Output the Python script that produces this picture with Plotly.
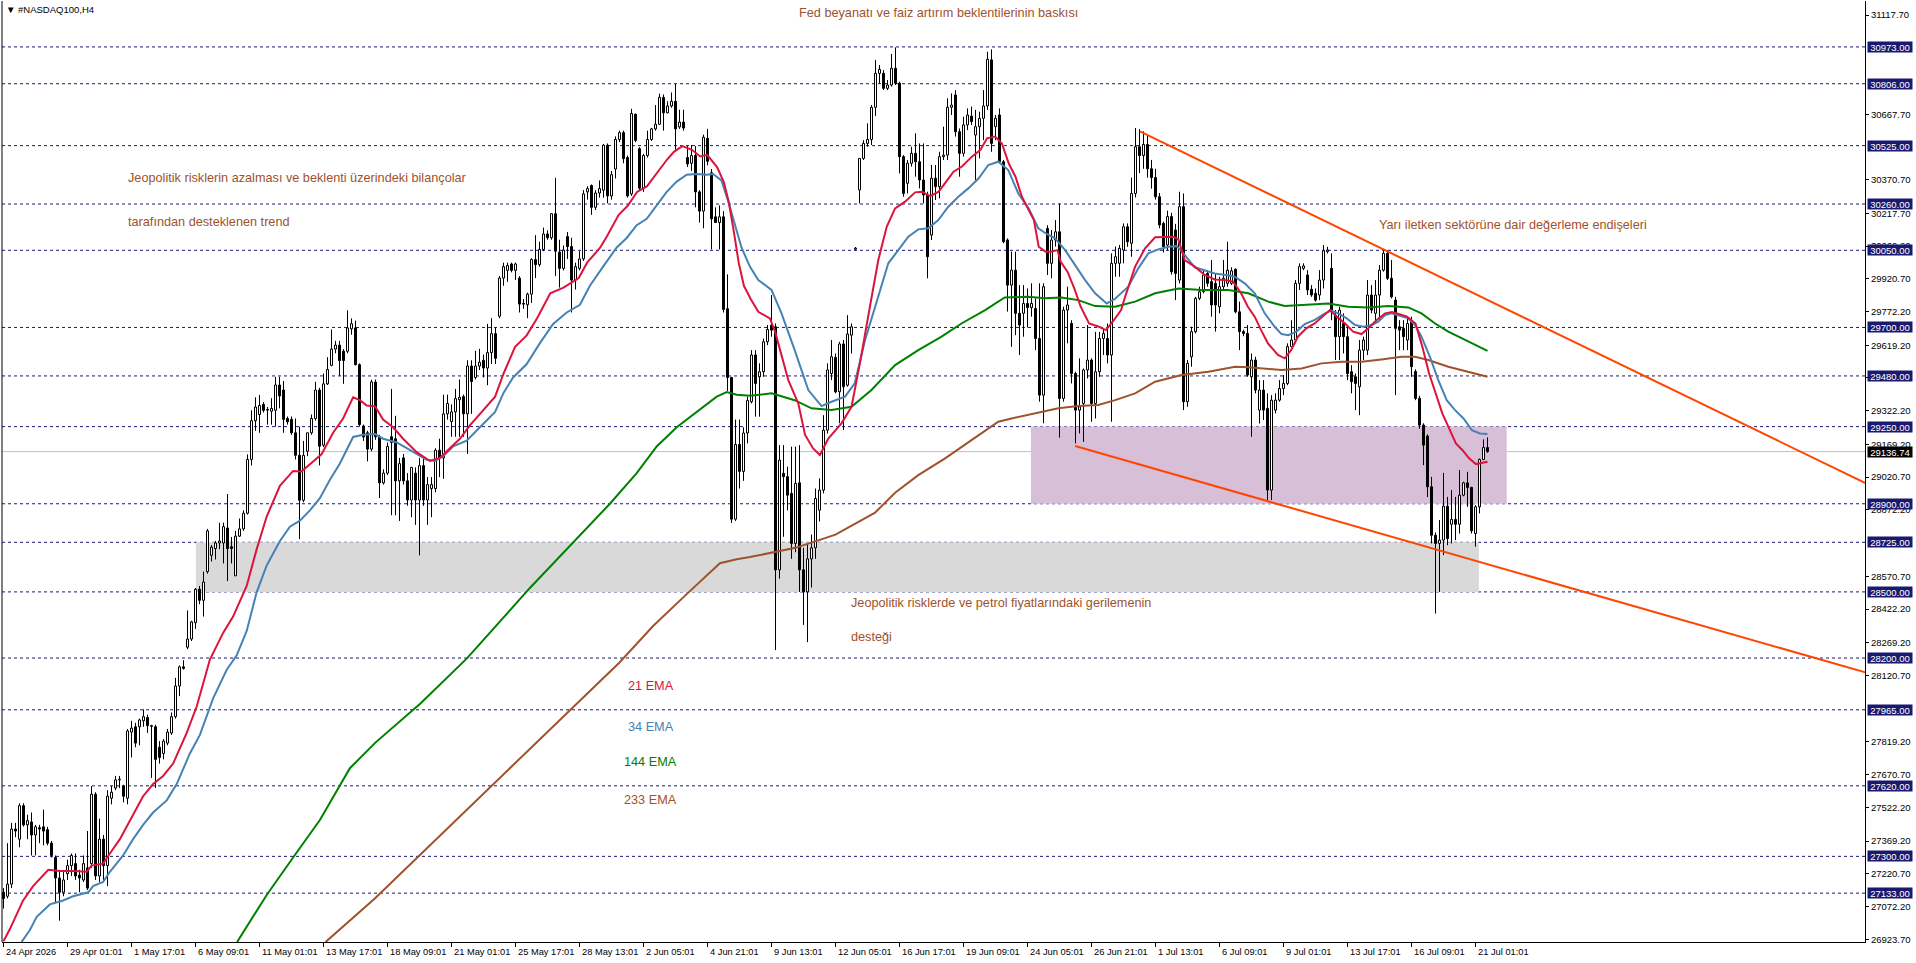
import plotly.graph_objects as go

# ---------------- data ----------------
opens = [
    27137, 27119, 27174, 27424, 27378, 27530, 27443, 27456, 27397, 27430,
    27434, 27421, 27360, 27295, 27202, 27137, 27221, 27258, 27267, 27215,
    27193, 27248, 27267, 27582, 27211, 27378, 27258, 27564, 27610, 27647,
    27619, 27564, 27864, 27888, 27888, 27915, 27930, 27893, 27888, 27795,
    27767, 27814, 27860, 27934, 28073, 28160, 28249, 28286, 28360, 28512,
    28462, 28592, 28666, 28697, 28722, 28722, 28790, 28705, 28573, 28753,
    28786, 28857, 29101, 29277, 29305, 29351, 29327, 29320, 29324, 29439,
    29416, 29287, 29283, 29222, 29120, 28916, 29138, 29222, 29287, 29416,
    29166, 29444, 29528, 29602, 29620, 29592, 29592, 29694, 29698, 29531,
    29253, 29222, 29148,
    29452, 29204, 28995, 29039, 29204, 29195, 29004,
    29108, 29004, 28917, 29039, 28917, 29073, 28917, 28969, 28969, 29143,
    29108, 29308, 29273, 29317, 29372, 29386, 29308, 29525, 29473, 29525,
    29551, 29516, 29586, 29672, 29751, 29924, 29959, 29988, 29959, 29924,
    29808, 29803, 29851, 30008, 29985, 30054, 30124, 30107, 30216, 30042,
    29968, 30112, 30067, 29915, 29968, 30011, 30315, 30344, 30245, 30310,
    30323, 30527, 30297, 30419, 30553, 30584, 30471, 30306, 30667, 30511,
    30332, 30480, 30553, 30601, 30622, 30744, 30674, 30705, 30726, 30610,
    30632, 30471, 30445, 30480, 30315, 30228, 30558, 30402, 30202, 30176,
    30202, 29785, 29473, 28830, 29169, 29047, 29221,
    29363, 29575, 29476,
    29499, 29635, 29711, 29703, 28600, 29038, 29023, 28947, 28720, 28995,
    28600, 28500, 28650, 28700, 28871, 28962, 29234, 29491, 29564, 29408,
    29625, 29438, 29665, 30055, 30324, 30467, 30535, 30553, 30699, 30853,
    30853, 30785, 30800, 30876, 30808, 30475, 30354, 30445, 30490, 30452,
    30369, 30301, 30119, 30377, 30339, 30475, 30482, 30699, 30755, 30588,
    30490, 30619, 30659, 30573, 30611, 30649, 30705, 30914, 30611, 30664,
    30452, 30097, 29892, 29960, 29764, 29764, 29809, 29790, 29786, 29650,
    29393, 30149, 29991, 30097, 30134, 29378, 29779, 29718, 29491, 29325,
    29355, 29507, 29552, 29355, 29499, 29650, 29650, 29575, 29991,
    29991,
    30051, 30157, 30082, 30308, 30520, 30480, 30530, 30420, 30380, 30293,
    30172, 30074, 30203, 30142, 29915, 30248, 29363, 29567, 29681, 29832,
    29862, 29945, 29908, 29900, 29794, 29885, 29900, 29900, 29964, 29771,
    29681, 29673, 29476, 29552, 29325, 29416, 29333, 28962, 29325, 29370,
    29423, 29446, 29613, 29643, 29900, 29968, 29938, 29873, 29855, 29847,
    29915, 30044, 29968, 29756, 29658, 29718, 29658, 29499, 29476, 29431,
    29597, 29597, 29847, 29764, 29847, 29960, 30036, 29923, 29824, 29703,
    29696, 29643, 29726, 29500, 29378, 29257, 29207, 28977, 28757, 28720,
    28735, 28889, 28807, 28829, 28807, 28939, 28995, 28974, 28765, 28886,
    29101, 29155,
]

highs = [
    27156, 27360, 27452, 27452, 27541, 27541, 27489, 27499, 27443, 27443,
    27512, 27434, 27370, 27304, 27230, 27230, 27285, 27313, 27313, 27239,
    27304, 27415, 27619, 27591, 27471, 27397, 27600, 27619, 27665, 27665,
    27625, 27878, 27915, 27906, 27925, 27967, 27943, 27897, 27897, 27823,
    27832, 27878, 27953, 28110, 28166, 28190, 28416, 28369, 28518, 28527,
    28592, 28786, 28712, 28731, 28814, 28814, 28944, 28749, 28777, 28833,
    28870, 29124, 29324, 29383, 29394, 29361, 29339, 29379, 29476, 29476,
    29457, 29296, 29296, 29287, 29250, 29185, 29222, 29305, 29453, 29426,
    29491, 29565, 29691, 29639, 29639, 29602, 29778, 29741, 29731, 29537,
    29259, 29231, 29463,
    29464, 29213, 29056, 29178, 29421, 29299, 29108,
    29126, 29039, 29065, 29065, 29108, 29108, 29021, 29021, 29152, 29195,
    29395, 29395, 29351, 29421, 29464, 29395, 29551, 29551, 29594, 29603,
    29577, 29716, 29742, 29699, 29933, 29994, 29994, 29994, 29994, 29933,
    29829, 29858, 30014, 30119, 30089, 30153, 30141, 30219, 30379, 30098,
    30072, 30133, 30107, 29994, 30046, 30323, 30341, 30349, 30323, 30367,
    30532, 30535, 30410, 30567, 30593, 30593, 30480, 30692, 30671, 30518,
    30488, 30593, 30605, 30709, 30761, 30757, 30726, 30766, 30806, 30688,
    30688, 30523, 30528, 30523, 30323, 30575, 30601, 30419, 30245, 30254,
    30228, 29941, 29476, 29282, 29282, 29247, 29386,
    29597, 29597, 29537,
    29650, 29711, 29847, 29718, 29166, 29166, 29068, 29159, 29159, 29166,
    28700, 28720, 28760, 28969, 29015, 29302, 29537, 29643, 29582, 29635,
    29643, 29756, 29718, 30065, 30467, 30550, 30626, 30709, 30914, 30891,
    30868, 30823, 30941, 30971, 30815, 30482, 30460, 30520, 30581, 30535,
    30535, 30316, 30437, 30437, 30497, 30611, 30740, 30762, 30777, 30603,
    30656, 30694, 30702, 30687, 30679, 30777, 30951, 30962, 30664, 30694,
    30460, 30104, 30044, 30044, 29892, 29892, 29877, 29900, 29832, 29900,
    29900, 30164, 30142, 30187, 30263, 29794, 29885, 29733, 29499, 29560,
    29514, 29711, 29560, 29680, 29680, 29695, 29718, 30036, 30067,
    30074,
    30172, 30172, 30380, 30605, 30600, 30590, 30570, 30460, 30420, 30310,
    30180, 30230, 30220, 30170, 30316, 30308, 29552, 29703, 29839, 29885,
    29960, 29960, 30006, 29945, 29930, 30006, 30089, 29973, 29968, 29817,
    29690, 29711, 29582, 29567, 29461, 29461, 29401, 29393, 29401, 29461,
    29484, 29628, 29733, 29915, 29991, 29991, 29960, 29892, 29877, 29960,
    30074, 30066, 30036, 29779, 29794, 29764, 29703, 29529, 29491, 29643,
    29658, 29915, 29892, 29915, 29983, 30051, 30051, 30006, 29839, 29733,
    29733, 29749, 29749, 29510, 29390, 29265, 29215, 29022, 28770, 28826,
    29040, 28931, 28962, 28931, 29053, 29000, 29045, 28977, 28894, 29105,
    29192, 29201,
]

lows = [
    27063, 27109, 27156, 27387, 27341, 27435, 27378, 27304, 27304, 27360,
    27350, 27350, 27295, 27091, 27008, 27119, 27193, 27211, 27193, 27137,
    27184, 27147, 27248, 27193, 27184, 27193, 27165, 27536, 27600, 27610,
    27545, 27536, 27749, 27795, 27804, 27888, 27860, 27656, 27610, 27721,
    27740, 27804, 27851, 27925, 28027, 28147, 28240, 28277, 28332, 28444,
    28388, 28583, 28638, 28647, 28694, 28629, 28549, 28629, 28573, 28749,
    28777, 28851, 29074, 29231, 29222, 29314, 29259, 29259, 29250, 29333,
    29222, 29259, 29213, 29101, 28740, 28907, 29116, 29213, 29277, 29074,
    29157, 29439, 29524, 29583, 29481, 29444, 29583, 29667, 29528, 29250,
    29185, 29092, 29138,
    29190, 28926, 28987, 29030, 28848, 28848, 28822,
    28987, 28891, 28839, 28804, 28666, 28891, 28804, 28839, 28952, 29021,
    29013, 29282, 29204, 29204, 29204, 29204, 29126, 29308, 29464, 29507,
    29473, 29438, 29534, 29534, 29742, 29889, 29907, 29950, 29915, 29768,
    29785, 29742, 29811, 29924, 29976, 30046, 30098, 30098, 29933, 29881,
    29959, 30011, 29768, 29872, 29959, 30002, 30280, 30211, 30233, 30289,
    30289, 30263, 30280, 30376, 30541, 30445, 30289, 30297, 30541, 30323,
    30315, 30471, 30546, 30593, 30619, 30593, 30671, 30697, 30506, 30601,
    30593, 30428, 30410, 30245, 30176, 30150, 30436, 30054, 30176, 30054,
    29768, 29412, 28813, 28822, 28969, 29004, 29174,
    29355, 29295, 29295,
    29476, 29620, 29658, 28236, 28560, 28750, 28870, 28650, 28680, 28500,
    28350, 28272, 28520, 28650, 28820, 28947, 29219, 29461, 29401, 29265,
    29234, 29431, 29582, 30050, 30263, 30460, 30520, 30528, 30659, 30808,
    30777, 30777, 30793, 30800, 30399, 30293, 30308, 30430, 30384, 30331,
    30263, 29923, 30097, 30278, 30286, 30460, 30460, 30664, 30566, 30384,
    30475, 30596, 30619, 30369, 30467, 30550, 30687, 30497, 30550, 30445,
    30082, 29772, 29612, 29665, 29575, 29658, 29700, 29749, 29597, 29363,
    29265, 29938, 29923, 30067, 29200, 29363, 29628, 29446, 29174, 29219,
    29181, 29469, 29272, 29287, 29476, 29575, 29537, 29272, 29930,
    29930,
    29991, 30066, 30021, 30290, 30400, 30420, 30380, 30330, 30280, 30150,
    30040, 30050, 29940, 29824, 29900, 29325, 29340, 29522, 29673, 29824,
    29855, 29885, 29749, 29681, 29764, 29870, 29885, 29892, 29764, 29597,
    29660, 29476, 29204, 29401, 29264, 29280, 28917, 28917, 29310, 29363,
    29393, 29438, 29613, 29628, 29870, 29960, 29847, 29839, 29817, 29824,
    29877, 30036, 29733, 29552, 29552, 29582, 29461, 29401, 29325, 29302,
    29552, 29575, 29764, 29733, 29733, 29953, 29915, 29832, 29393, 29597,
    29597, 29597, 29476, 29370, 29240, 29075, 28930, 28720, 28402, 28500,
    28667, 28712, 28720, 28735, 28765, 28934, 28886, 28765, 28705, 28856,
    29098, 29131,
]

closes = [
    27109, 27174, 27424, 27415, 27530, 27443, 27462, 27397, 27434, 27424,
    27415, 27360, 27304, 27202, 27137, 27193, 27258, 27304, 27211, 27202,
    27267, 27156, 27582, 27211, 27378, 27258, 27573, 27591, 27647, 27650,
    27573, 27869, 27882, 27814, 27919, 27934, 27893, 27890, 27740, 27749,
    27823, 27864, 27934, 28073, 28160, 28153, 28286, 28364, 28512, 28462,
    28545, 28777, 28703, 28722, 28731, 28796, 28697, 28697, 28753, 28786,
    28857, 29101, 29277, 29339, 29346, 29324, 29325, 29333, 29439, 29389,
    29283, 29272, 29222, 29120, 28916, 29120, 29222, 29287, 29416, 29161,
    29444, 29509, 29602, 29620, 29550, 29550, 29698, 29717, 29531, 29259,
    29203, 29148, 29453,
    29204, 28995, 29039, 29160, 29178, 29004, 29082,
    29004, 28917, 29065, 28917, 29073, 28917, 28987, 28987, 29143, 29108,
    29308, 29355, 29317, 29377, 29383, 29308, 29525, 29455, 29525, 29542,
    29516, 29586, 29672, 29560, 29924, 29976, 29981, 29959, 29988, 29806,
    29806, 29851, 30008, 29985, 30054, 30124, 30107, 30216, 30046, 29968,
    30051, 30067, 29915, 29976, 30011, 30306, 30330, 30245, 30310, 30330,
    30527, 30297, 30393, 30553, 30584, 30466, 30297, 30671, 30549, 30332,
    30480, 30553, 30601, 30622, 30744, 30674, 30705, 30726, 30601, 30632,
    30605, 30442, 30480, 30315, 30228, 30563, 30454, 30193, 30176, 30202,
    29782, 29473, 28830, 29169, 29047, 29221, 29369,
    29575, 29446, 29499,
    29635, 29691, 29688, 28600, 29098, 29023, 28939, 28720, 28992, 28600,
    28500, 28650, 28700, 28924, 28962, 29234, 29507, 29567, 29408, 29625,
    29431, 29670, 29703, 30060, 30467, 30535, 30553, 30699, 30853, 30871,
    30785, 30800, 30876, 30808, 30475, 30308, 30445, 30490, 30452, 30369,
    30301, 30021, 30377, 30339, 30475, 30482, 30699, 30709, 30588, 30490,
    30619, 30664, 30634, 30611, 30649, 30705, 30917, 30535, 30649, 30452,
    30089, 29892, 29960, 29764, 29711, 29809, 29790, 29809, 29650, 29393,
    29885, 29991, 30097, 30134, 29378, 29779, 29802, 29491, 29325, 29340,
    29507, 29552, 29355, 29499, 29650, 29673, 29575, 29991, 30021,
    30059,
    30157, 30089, 30308, 30520, 30480, 30530, 30420, 30380, 30293, 30165,
    30066, 30203, 29953, 29945, 30248, 29363, 29537, 29681, 29832, 29862,
    29938, 29900, 29802, 29802, 29885, 29923, 29960, 29957, 29771, 29681,
    29673, 29484, 29552, 29416, 29416, 29325, 28962, 29370, 29370, 29423,
    29446, 29613, 29643, 29900, 29976, 29979, 29870, 29847, 29824, 29915,
    30048, 30051, 29771, 29658, 29779, 29658, 29491, 29454, 29446, 29597,
    29643, 29847, 29779, 29847, 29960, 30036, 29923, 29839, 29696, 29688,
    29658, 29718, 29522, 29378, 29257, 29166, 28977, 28757, 28720, 28735,
    28889, 28742, 28829, 28807, 28939, 28995, 28974, 28777, 28886, 29101,
    29155, 29136.74,
]

date_labels = ["24 Apr 2026", "29 Apr 01:01", "1 May 17:01", "6 May 09:01",
               "11 May 01:01", "13 May 17:01", "18 May 09:01", "21 May 01:01",
               "25 May 17:01", "28 May 13:01", "2 Jun 05:01", "4 Jun 21:01",
               "9 Jun 13:01", "12 Jun 05:01", "16 Jun 17:01", "19 Jun 09:01",
               "24 Jun 05:01", "26 Jun 21:01", "1 Jul 13:01", "6 Jul 09:01",
               "9 Jul 01:01", "13 Jul 17:01", "16 Jul 09:01", "21 Jul 01:01"]
date_label_bars = [16 * k for k in range(len(date_labels))]

price_ticks = [31117.70, 30667.70, 30370.70, 30217.70, 30069.20, 29920.70,
               29772.20, 29619.20, 29471.20, 29322.20, 29169.20, 29020.70,
               28872.20, 28570.70, 28422.20, 28269.20, 28120.70, 27819.20,
               27670.70, 27522.20, 27369.20, 27220.70, 27072.20, 26923.70]

levels = [30973, 30806, 30525, 30260, 30050, 29700, 29480, 29250, 28900,
          28725, 28500, 28200, 27965, 27620, 27300, 27133]
current_price = 29136.74

ema21_x = [0, 1.6, 4.9, 7.4, 11.2, 14.1, 17.4, 20.8, 22, 24.9, 26.6, 29.1, 32.4, 34.9,
           37.4, 39.9, 42.4, 45.8, 48.3, 51.6, 54.9, 57.4, 60.8, 63.3, 65.8, 69.1, 72.4,
           74.5, 77.4, 79.5, 82.4, 84.9, 87.4, 89.1, 90.8, 92.9, 94.9, 97.4, 99.9, 103.3,
           106.6, 109.1, 111.6, 114.1, 116.6, 120, 122.9, 125, 127.9, 130.8, 133.4, 136.7,
           140, 143.8, 145.9, 149.2, 150.9, 153.8, 156, 158.4, 160.9, 163.4, 165.9, 167.6,
           169.7, 172.1, 174.2, 175.9, 178.4, 180.1, 181.3, 182.6, 183.8, 185.1, 186.8,
           188.7, 191.6, 192.9, 196.2, 198.7, 200.4, 202.4, 204.1, 206.2, 209.5, 212,
           214.1, 216.6, 218.7, 220.8, 222.9, 225.4, 227.9, 229.6, 231.7, 233.8, 235.4,
           237.5, 239.6, 242.1, 244.2, 245.9, 247.9, 249.6, 251.3, 253, 254.6, 256.3,
           257.6, 258.8, 260.5, 261.8, 263.5, 264.3, 266, 267.7, 269.3, 271.4, 273.9,
           275.6, 277.3, 279.4, 280.4, 282.9, 285.4, 287.9, 290.4, 292.4, 293.7, 295.3,
           297.8, 300.3, 302.8, 305.3, 307.4, 309.4, 311.1, 312.8, 314.4, 316.1, 318.6,
           320.3, 321.9, 323.6, 325.7, 327.8, 329.9, 331.6, 333.3, 335.4, 337.4, 339.5,
           341.2, 343.3, 345.4, 347.1, 348.8, 350.9, 353, 354.7, 356.4, 358.1, 359.7,
           361.4, 363.1, 364.7, 366.4, 368.1, 369.8, 371]
ema21_y = [26915, 26970, 27100, 27165, 27239, 27234, 27234, 27230, 27258, 27267, 27313,
           27378, 27489, 27573, 27628, 27665, 27721, 27860, 27980, 28193, 28314, 28388,
           28527, 28694, 28842, 28981, 29049, 29046, 29092, 29124, 29222, 29287, 29383,
           29370, 29346, 29342, 29282, 29247, 29195, 29134, 29094, 29108, 29152, 29195,
           29256, 29325, 29386, 29490, 29612, 29664, 29742, 29855, 29881, 29924, 29994,
           30063, 30115, 30211, 30251, 30315, 30341, 30402, 30462, 30497, 30523, 30506,
           30476, 30483, 30428, 30358, 30271, 30133, 29994, 29889, 29829, 29771, 29741,
           29681, 29461, 29355, 29212, 29151, 29121, 29196, 29265, 29340, 29537, 29794,
           30006, 30157, 30240, 30271, 30313, 30316, 30296, 30316, 30354, 30407, 30430,
           30475, 30505, 30558, 30566, 30535, 30445, 30384, 30293, 30233, 30187, 30066,
           30044, 30044, 30051, 29998, 29953, 29877, 29794, 29718, 29703, 29688, 29726,
           29779, 29839, 29976, 30059, 30109, 30109, 30112, 30100, 30006, 29976, 29938,
           29918, 29915, 29908, 29855, 29794, 29749, 29688, 29628, 29575, 29560, 29597,
           29658, 29696, 29718, 29752, 29779, 29749, 29718, 29681, 29670, 29696, 29734,
           29764, 29770, 29761, 29749, 29718, 29613, 29491, 29401, 29310, 29242, 29174,
           29144, 29106, 29080, 29086, 29091]

ema34_x = [4.5, 6.6, 8.3, 11.6, 14.9, 17.4, 21.2, 22.4, 24.9, 26.6, 29.9, 32.4, 34.9,
           37.4, 40.8, 43.3, 46.6, 49.1, 52.4, 55.8, 58.3, 60.8, 63.3, 65.8, 69.1, 71.6,
           74.1, 76.6, 79.1, 81.6, 84.1, 87.4, 89.9, 92.9, 94.9, 98.3, 100.8, 103.3,
           105.8, 107.9, 110, 112.4, 115.8, 119.1, 122.9, 125, 127.4, 130.8, 134.1, 137.4,
           140.8, 144.1, 146.6, 149.9, 153.3, 155.8, 158.3, 160.8, 163.3, 165.8, 168.3,
           170.8, 173.3, 175.8, 177.4, 179.5, 181.2, 182.8, 184.5, 186.6, 188.7, 192,
           194.5, 197.8, 201.2, 204.5, 207, 210.4, 212.8, 215.4, 218.7, 221.2, 223.7,
           226.2, 228.7, 231.2, 233.7, 236.2, 238.7, 241.2, 243.8, 246.2, 248.7, 251.2,
           253.7, 256.3, 258.7, 260.8, 262.9, 265.4, 267.9, 270.4, 272.9, 275.8, 277.9,
           281.2, 283.7, 286.2, 288.7, 291.2, 293.3, 295.3, 297.8, 300.3, 302.8, 305.7,
           307.8, 310.3, 312.8, 315.3, 317.8, 319.5, 321.2, 323.2, 325.3, 327.8, 330.4,
           332, 333.7, 335.8, 337.9, 340, 342.1, 343.7, 345.4, 347, 349.1, 351.2, 352.9,
           354.5, 356.6, 358.7, 360.8, 362.9, 365, 367.1, 369.1, 371]
ema34_y = [26911, 26966, 27026, 27082, 27100, 27119, 27137, 27165, 27184, 27230, 27304,
           27378, 27443, 27499, 27554, 27628, 27767, 27851, 28017, 28147, 28212, 28323,
           28499, 28620, 28731, 28796, 28823, 28870, 28925, 29009, 29083, 29203, 29213,
           29216, 29195, 29178, 29152, 29126, 29100, 29094, 29117, 29160, 29186, 29247,
           29317, 29403, 29473, 29534, 29629, 29716, 29768, 29803, 29889, 29976, 30063,
           30106, 30164, 30193, 30254, 30315, 30362, 30393, 30396, 30393, 30396, 30367,
           30271, 30167, 30063, 29976, 29915, 29870, 29764, 29597, 29416, 29343, 29363,
           29386, 29446, 29643, 29839, 29991, 30051, 30112, 30145, 30150, 30187, 30248,
           30293, 30331, 30377, 30437, 30452, 30414, 30308, 30240, 30150, 30124, 30104,
           30051, 29983, 29915, 29855, 29809, 29830, 29885, 29968, 30036, 30054, 30066,
           30069, 30029, 29973, 29960, 29945, 29938, 29930, 29900, 29855, 29764, 29703,
           29670, 29665, 29681, 29715, 29734, 29764, 29776, 29764, 29741, 29711, 29703,
           29711, 29726, 29756, 29764, 29752, 29741, 29711, 29658, 29567, 29461, 29370,
           29325, 29287, 29234, 29219, 29216]

ema144_x = [58.4, 65.8, 72.4, 79.1, 86.6, 92.9, 104.3, 115.8, 131.6, 143.3, 151.6,
            158.3, 163.3, 168.3, 173.3, 178.3, 180.8, 183.3, 186.6, 192, 197.8, 202,
            207, 212, 217, 222.9, 228.7, 234.5, 239.5, 245.4, 250.3, 256.2, 260.3,
            264.5, 268.7, 272.9, 277.9, 282.9, 287.9, 293.7, 299.5, 306.2, 311.2,
            316.2, 320.3, 326.2, 331.2, 336.2, 341.2, 346.2, 351.2, 354.5, 357.9,
            361.2, 365.4, 371]
ema144_y = [26911, 27125, 27295, 27465, 27700, 27815, 27995, 28197, 28518, 28744,
            28900, 29039, 29160, 29247, 29317, 29386, 29407, 29395, 29390, 29401,
            29370, 29333, 29325, 29340, 29416, 29529, 29597, 29658, 29718, 29779,
            29836, 29839, 29832, 29836, 29824, 29797, 29794, 29817, 29855, 29877,
            29870, 29870, 29855, 29817, 29797, 29802, 29809, 29794, 29791, 29797,
            29791, 29764, 29718, 29681, 29643, 29594]

ema233_x = [80.5, 92.9, 154, 162.4, 170.8, 179.1, 183.3, 186.6, 198, 208, 217.9,
            222.9, 228.7, 235.4, 242, 248.7, 252, 257.9, 263.7, 268.7, 273.7, 277.9,
            282.9, 287.9, 294.5, 301.2, 307.9, 311.2, 314.5, 319.5, 324.5, 329.5,
            334.5, 339.5, 344.5, 349.5, 352.9, 356.2, 361.2, 366.2, 371]
ema233_y = [26911, 27110, 28180, 28345, 28490, 28630, 28648, 28658, 28700, 28760,
            28860, 28950, 29030, 29106, 29189, 29272, 29287, 29310, 29333, 29343,
            29348, 29370, 29401, 29454, 29484, 29499, 29522, 29519, 29514, 29507,
            29514, 29537, 29544, 29544, 29555, 29567, 29567, 29552, 29522, 29499,
            29476]

# analyst drawings (bar index, price)
upper_trend_x = [284.1, 466.0]
upper_trend_y = [30590, 28989]
lower_trend_x = [267.9, 466.0]
lower_trend_y = [29162, 28132]
gray_zone = dict(x0=48.1, x1=368.85, y0=28500, y1=28725)
purple_zone = dict(x0=256.85, x1=375.8, y0=28900, y1=29250)

notes = [
    ("Fed beyanatı ve faiz artırım beklentilerinin baskısı", 198.4, 31127, "#A0522D"),
    ("Jeopolitik risklerin azalması ve beklenti üzerindeki bilançolar", 30.6, 30378, "#A0522D"),
    ("tarafından desteklenen trend", 30.6, 30178, "#A0522D"),
    ("Yarı iletken sektörüne dair değerleme endişeleri", 343.4, 30165, "#A0522D"),
    ("Jeopolitik risklerde ve petrol fiyatlarındaki gerilemenin", 211.4, 28450, "#A0522D"),
    ("desteği", 211.4, 28295, "#A0522D"),
    ("21 EMA", 155.6, 28073, "#DC143C"),
    ("34 EMA", 155.6, 27887, "#4682B4"),
    ("144 EMA", 154.6, 27728, "#008000"),
    ("233 EMA", 154.6, 27556, "#A0522D"),
]

# ---------------- figure ----------------
n = len(closes)
for name, arr in (("opens", opens), ("highs", highs), ("lows", lows)):
    if len(arr) != n:
        raise ValueError(f"{name} has {len(arr)} values, closes has {n}")

FONT = "Liberation Sans, Arial, sans-serif"
bx = list(range(n))
body_base = [min(o, c) for o, c in zip(opens, closes)]
body_len = [max(abs(c - o), 2.5) for o, c in zip(opens, closes)]
body_fill = ["#ffffff" if c >= o else "#000000" for o, c in zip(opens, closes)]

wick_x, wick_y = [], []
for i in range(n):
    top = max(opens[i], closes[i])
    bot = min(opens[i], closes[i])
    if highs[i] > top:
        wick_x += [i, i, None]
        wick_y += [highs[i], top, None]
    if lows[i] < bot:
        wick_x += [i, i, None]
        wick_y += [bot, lows[i], None]

fig = go.Figure()
fig.add_trace(go.Bar(x=bx, y=body_len, base=body_base, width=0.5,
                     marker=dict(color=body_fill, line=dict(color="#000000", width=1)),
                     hoverinfo="skip"))
fig.add_trace(go.Scatter(x=wick_x, y=wick_y, mode="lines",
                         line=dict(color="#000000", width=1), hoverinfo="skip"))

for xs, ys, col in ((ema233_x, ema233_y, "#A0522D"), (ema144_x, ema144_y, "#008000"),
                    (ema34_x, ema34_y, "#4682B4"), (ema21_x, ema21_y, "#DC143C")):
    fig.add_trace(go.Scatter(x=xs, y=ys, mode="lines", line=dict(color=col, width=2),
                             hoverinfo="skip"))

for xs, ys in ((upper_trend_x, upper_trend_y), (lower_trend_x, lower_trend_y)):
    fig.add_trace(go.Scatter(x=xs, y=ys, mode="lines", line=dict(color="#FF4500", width=2),
                             hoverinfo="skip"))

shapes = []
shapes.append(dict(type="rect", xref="x", yref="y", layer="below",
                   fillcolor="#d9d9d9", line=dict(width=0), **gray_zone))
shapes.append(dict(type="rect", xref="x", yref="y", layer="below",
                   fillcolor="#d8bfd8", line=dict(width=0), **purple_zone))
shapes.append(dict(type="line", xref="paper", yref="y", x0=0, x1=1,
                   y0=current_price, y1=current_price, layer="below",
                   line=dict(color="#c0c0c0", width=1)))
for lv in levels:
    shapes.append(dict(type="line", xref="paper", yref="y", x0=0, x1=1, y0=lv, y1=lv,
                       layer="below", line=dict(color="#191970", width=1, dash="3px,3px")))
shapes.append(dict(type="line", xref="paper", yref="paper", x0=0, x1=0, y0=0, y1=1,
                   line=dict(color="#000000", width=1)))

ann = []
for lv in levels:
    ann.append(dict(text=f"{lv:.2f}", xref="paper", x=1, xanchor="left", xshift=2,
                    yref="y", y=lv, yanchor="middle", showarrow=False,
                    bgcolor="#191970", font=dict(color="white", size=9.5, family=FONT),
                    width=44, height=10, borderpad=0, align="center"))
ann.append(dict(text=f"{current_price:.2f}", xref="paper", x=1, xanchor="left", xshift=2,
                yref="y", y=current_price, yanchor="middle", showarrow=False,
                bgcolor="#000000", font=dict(color="white", size=9.5, family=FONT),
                width=44, height=10, borderpad=0, align="center"))
for b, lab in zip(date_label_bars, date_labels):
    ann.append(dict(text=lab, xref="x", x=b, xanchor="left", yref="paper", y=0,
                    yanchor="top", yshift=-3, showarrow=False,
                    font=dict(size=9.3, color="black", family=FONT)))
for txt, x, y, col in notes:
    ann.append(dict(text=txt, xref="x", x=x, xanchor="left", yref="y", y=y,
                    yanchor="middle", showarrow=False,
                    font=dict(size=12.7, color=col, family=FONT)))
ann.append(dict(text="▼ #NASDAQ100,H4", xref="paper", x=0, xanchor="left", xshift=2,
                yref="paper", y=1, yanchor="top", yshift=-1, showarrow=False,
                font=dict(size=9.5, color="black", family=FONT)))

fig.update_layout(
    width=1916, height=963,
    margin=dict(l=2, r=51, t=1, b=21),
    paper_bgcolor="white", plot_bgcolor="white",
    showlegend=False, hovermode=False,
    font=dict(family=FONT, size=10, color="black"),
    shapes=shapes, annotations=ann,
    xaxis=dict(range=[-0.375, 465.375], showgrid=False, zeroline=False,
               showline=True, linecolor="#000000", linewidth=1,
               ticks="outside", ticklen=4, tickcolor="#000000",
               tickvals=date_label_bars, showticklabels=False, fixedrange=True),
    yaxis=dict(side="right", range=[26911.4, 31181.3], showgrid=False, zeroline=False,
               showline=True, linecolor="#000000", linewidth=1,
               ticks="outside", ticklen=3, tickcolor="#000000",
               tickvals=price_ticks, ticktext=[f"{v:.2f}" for v in price_ticks],
               tickfont=dict(size=9.5, color="black", family=FONT), fixedrange=True),
)

fig.write_html("out.html", config={"displayModeBar": False})
